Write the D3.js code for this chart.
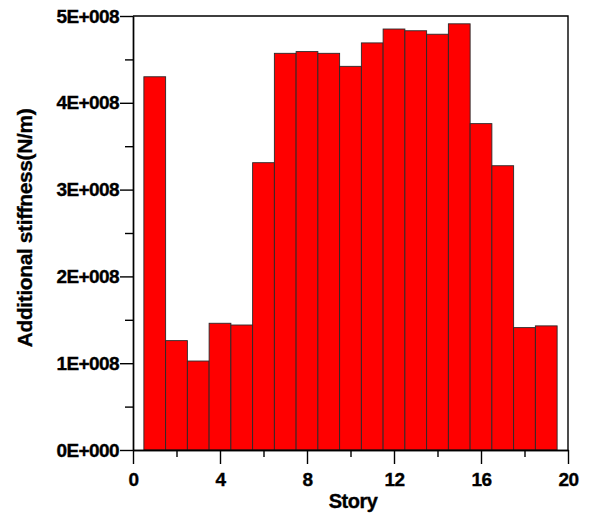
<!DOCTYPE html>
<html>
<head>
<meta charset="utf-8">
<script src="https://cdn.jsdelivr.net/npm/d3@7"></script>
<style>
  body { margin: 0; background: #fff; }
  text { font-family: Arial, "Liberation Sans", sans-serif; font-weight: bold; fill: #000; stroke: #000; stroke-width: 0.35px; }
</style>
</head>
<body>
<div id="chart"></div>
<script>
// chart size
var svgWidth = 597;
var svgHeight = 515;

var margin = { top: 16, right: 29, bottom: 65, left: 133 };
var chartWidth = svgWidth - margin.left - margin.right;
var chartHeight = svgHeight - margin.top - margin.bottom;

// data
var stories = [1, 2, 3, 4, 5, 6, 7, 8, 9, 10, 11, 12, 13, 14, 15, 16, 17, 18, 19];
var stiffness = [4.30e8, 1.26e8, 1.025e8, 1.46e8, 1.44e8, 3.31e8, 4.57e8, 4.59e8, 4.57e8, 4.42e8,
                 4.69e8, 4.85e8, 4.83e8, 4.79e8, 4.91e8, 3.76e8, 3.275e8, 1.41e8, 1.43e8];
var xMajorTicks = [0, 4, 8, 12, 16, 20];
var xMinorTicks = [2, 6, 10, 14, 18];
var yMajorTicks = [0, 1e8, 2e8, 3e8, 4e8, 5e8];
var yMinorTicks = [0.5e8, 1.5e8, 2.5e8, 3.5e8, 4.5e8];

var svg = d3.select("#chart")
  .append("svg")
  .attr("width", svgWidth)
  .attr("height", svgHeight);

var chartGroup = svg.append("g")
  .attr("transform", `translate(${margin.left}, ${margin.top})`);

var xScale = d3.scaleLinear().domain([0, 20]).range([0, chartWidth]);
var yScale = d3.scaleLinear().domain([0, 5e8]).range([chartHeight, 0]);

// like 1E+008
function sciFormat(d) {
  if (d === 0) return "0E+000";
  var e = Math.floor(Math.log10(d));
  var m = Math.round(d / Math.pow(10, e) * 100) / 100;
  return m + "E+" + String(e).padStart(3, "0");
}

// bars, one story wide
chartGroup.selectAll("rect.bar")
  .data(stories)
  .enter()
  .append("rect")
  .attr("class", "bar")
  .attr("x", d => xScale(d - 0.5))
  .attr("width", d => xScale(d + 0.5) - xScale(d - 0.5))
  .attr("y", (d, i) => yScale(stiffness[i]))
  .attr("height", (d, i) => yScale(0) - yScale(stiffness[i]))
  .style("fill", "#ff0000")
  .style("stroke", "#2a2a2a")
  .style("stroke-width", 0.9);

// frame top + right
chartGroup.append("path")
  .attr("d", `M0,0H${chartWidth}V${chartHeight}`)
  .style("fill", "none")
  .style("stroke", "#000")
  .style("stroke-width", 1.4);

// x axis
var xAxis = d3.axisBottom(xScale).tickValues(xMajorTicks).tickSize(14).tickSizeOuter(0).tickPadding(9);
var xMinor = d3.axisBottom(xScale).tickValues(xMinorTicks).tickSize(7).tickSizeOuter(0).tickFormat("");

var gx = chartGroup.append("g")
  .attr("transform", `translate(0, ${chartHeight})`)
  .call(xAxis);
chartGroup.append("g")
  .attr("transform", `translate(0, ${chartHeight})`)
  .call(xMinor);

// y axis
var yAxis = d3.axisLeft(yScale).tickValues(yMajorTicks).tickSize(13).tickSizeOuter(0).tickPadding(1).tickFormat(sciFormat);
var yMinor = d3.axisLeft(yScale).tickValues(yMinorTicks).tickSize(8).tickSizeOuter(0).tickFormat("");

var gy = chartGroup.append("g").call(yAxis);
chartGroup.append("g").call(yMinor);

chartGroup.selectAll(".domain, .tick line")
  .style("stroke", "#000")
  .style("stroke-width", 1.4);

gx.selectAll("text").style("font-size", "19px").style("letter-spacing", "-0.6px").style("font-family", null);
gy.selectAll("text").style("font-size", "19px").style("letter-spacing", "-0.6px").style("font-family", null);

// axis titles
svg.append("text")
  .attr("x", 353)
  .attr("y", 508)
  .attr("text-anchor", "middle")
  .style("font-size", "20px")
  .style("letter-spacing", "-0.5px")
  .text("Story");

svg.append("text")
  .attr("transform", "translate(32, 228) rotate(-90)")
  .attr("text-anchor", "middle")
  .style("font-size", "21px")
  .style("letter-spacing", "-0.4px")
  .text("Additional stiffness(N/m)");
</script>
</body>
</html>
